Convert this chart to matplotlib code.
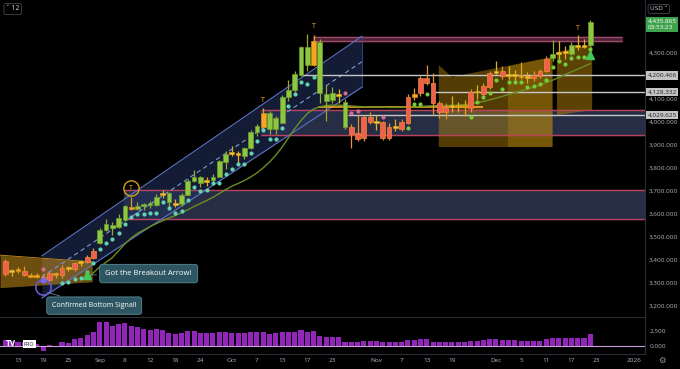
import numpy as np
import pandas as pd
import matplotlib
matplotlib.use("Agg")
import matplotlib.pyplot as plt
import matplotlib.transforms as mtransforms
from matplotlib.patches import Polygon

# trading days shown on the chart (weekends and market holidays dropped)
holidays = ["2025-09-01", "2025-11-27", "2025-12-25", "2026-01-01"]
days = pd.bdate_range("2025-08-11", "2026-01-02")
days = days[~days.isin(pd.to_datetime(holidays))]

opens = [3397, 3347, 3352, 3354, 3334, 3330, 3327, 3313, 3342, 3334,
         3365, 3360, 3388, 3392, 3410, 3475, 3530, 3550, 3545, 3573,
         3631, 3620, 3636, 3640, 3638, 3683, 3690, 3645, 3643, 3682,
         3744, 3758, 3738, 3745, 3761, 3826, 3860, 3865, 3851, 3884,
         3957, 3978, 4036, 3967, 3996, 4108, 4136, 4202, 4322, 4245,
         4347, 4120, 4094, 4118, 4087, 3978, 3950, 3928, 4022, 4000,
         4000, 3928, 3978, 3970, 3993, 4108, 4123, 4188, 4166, 4080,
         4043, 4065, 4072, 4066, 4061, 4127, 4120, 4149, 4211, 4222,
         4198, 4202, 4200, 4196, 4190, 4198, 4220, 4275, 4293, 4300,
         4295, 4332, 4325, 4333]
highs = [3405, 3360, 3368, 3372, 3343, 3345, 3338, 3350, 3350, 3378,
         3376, 3393, 3398, 3423, 3453, 3540, 3578, 3565, 3600, 3640,
         3674, 3650, 3648, 3655, 3685, 3703, 3697, 3665, 3690, 3750,
         3790, 3765, 3760, 3775, 3835, 3871, 3895, 3875, 3890, 3962,
         3990, 4059, 4045, 4025, 4116, 4180, 4218, 4330, 4380, 4376,
         4360, 4160, 4150, 4140, 4100, 3990, 4030, 4030, 4040, 4030,
         4005, 3995, 4010, 4010, 4120, 4145, 4200, 4245, 4210, 4090,
         4080, 4110, 4085, 4095, 4140, 4160, 4170, 4220, 4265, 4240,
         4240, 4225, 4260, 4215, 4220, 4230, 4285, 4355, 4350, 4330,
         4345, 4375, 4360, 4442]
lows = [3330, 3332, 3343, 3330, 3325, 3323, 3311, 3310, 3324, 3322,
        3352, 3352, 3372, 3385, 3406, 3470, 3525, 3510, 3540, 3570,
        3615, 3615, 3615, 3625, 3635, 3670, 3630, 3628, 3635, 3680,
        3738, 3718, 3722, 3738, 3758, 3793, 3850, 3820, 3840, 3880,
        3940, 3970, 3945, 3945, 3995, 4090, 4130, 4200, 4220, 4240,
        4080, 4004, 4080, 4080, 3970, 3886, 3915, 3915, 3990, 3965,
        3920, 3920, 3960, 3960, 3990, 4095, 4110, 4160, 4030, 4015,
        4010, 4040, 4040, 4025, 4040, 4100, 4110, 4140, 4205, 4185,
        4185, 4175, 4185, 4170, 4175, 4190, 4215, 4265, 4270, 4270,
        4290, 4310, 4320, 4330]
closes = [3340, 3352, 3357, 3334, 3328, 3327, 3313, 3342, 3336, 3365,
          3360, 3388, 3392, 3414, 3440, 3530, 3556, 3540, 3581, 3634,
          3620, 3636, 3640, 3648, 3675, 3687, 3653, 3638, 3682, 3744,
          3761, 3733, 3745, 3760, 3831, 3860, 3865, 3857, 3884, 3957,
          3981, 4036, 3970, 4015, 4108, 4136, 4206, 4322, 4245, 4351,
          4123, 4091, 4123, 4112, 3978, 3947, 3924, 4022, 4000, 3995,
          3928, 3978, 3972, 4000, 4108, 4120, 4188, 4166, 4080, 4043,
          4065, 4072, 4066, 4070, 4127, 4131, 4156, 4211, 4222, 4198,
          4202, 4200, 4196, 4190, 4202, 4220, 4271, 4293, 4300, 4305,
          4332, 4325, 4332, 4432]
# candle colouring from the trend indicator: g=green, o=orange, r=red, y=yellow
kinds = ("ryoroorror" "yryrrggggg" "oggggygygg" "ggygggyygg" "gogggggggo"
         "gggygrrrry" "rryrrorrrr" "ryyoryrryr" "yyoyrrrgyy" "gyyg")

# oscillator pane (purple histogram)
osc = [1000, 800, 700, 600, 500, 300, -780, 170, 60, 610,
       445, 1170, 1280, 1830, 2390, 4060, 4060, 3390, 3610, 3780,
       3340, 3110, 2780, 2670, 2780, 2670, 2220, 1950, 2220, 2500,
       2500, 2110, 2110, 2110, 2280, 2280, 2220, 2110, 2220, 2280,
       2390, 2390, 2000, 2110, 2280, 2280, 2390, 2670, 2280, 2500,
       1670, 1560, 1450, 1450, 720, 610, 610, 890, 890, 830,
       610, 610, 610, 610, 1000, 1000, 1170, 1110, 720, 610,
       610, 610, 610, 610, 830, 830, 1000, 1110, 1110, 1000,
       1000, 1000, 890, 890, 890, 890, 1170, 1280, 1280, 1280,
       1280, 1280, 1280, 1950]

# slow moving average (olive line), starts at candle 13
ma_start = 13
ma = [3320, 3345, 3370, 3390, 3410, 3440, 3470, 3495, 3515, 3530,
      3545, 3558, 3570, 3582, 3593, 3605, 3618, 3632, 3645, 3658,
      3672, 3688, 3705, 3720, 3732, 3745, 3760, 3778, 3800, 3825,
      3855, 3890, 3930, 3970, 4005, 4035, 4055, 4065, 4070, 4072,
      4072, 4070, 4068, 4066, 4065, 4064, 4064, 4063, 4062, 4062,
      4062, 4063, 4064, 4066, 4068, 4069, 4070, 4070, 4071, 4072,
      4074, 4077, 4082, 4088, 4095, 4102, 4110, 4118, 4126, 4134,
      4142, 4150, 4160, 4170, 4180, 4192, 4204, 4216, 4228, 4240,
      4252]

# trailing-stop dots
teal_idx = list(range(9, 50))
teal_px = [3300, 3305, 3318, 3322, 3350, 3385, 3449, 3472, 3490, 3516,
           3556, 3585, 3598, 3600, 3605, 3605, 3653, 3625, 3605, 3613,
           3659, 3715, 3700, 3705, 3733, 3735, 3772, 3793, 3815, 3815,
           3863, 3918, 3964, 3924, 3924, 3974, 4068, 4120, 4174, 4164,
           4193]
pink_idx = [6, 54, 55, 56, 60]
pink_px = [3362, 4123, 4036, 4047, 4022]
lime_idx = [64, 65, 66, 67] + list(range(74, 94))
lime_px = [3974, 4075, 4075, 4120,
           4019, 4084, 4106, 4123, 4180, 4142, 4171, 4171, 4171, 4151,
           4153, 4163, 4180, 4236, 4262, 4250, 4277, 4282, 4282, 4315]

# drawings: channel, zones, levels
chan_x = [5.8, 56.7]
chan_upper = [3418, 4371]
chan_lower = [3235, 4150]
left_zone_x = [-0.86, 13.8]
left_zone_top = [3421, 3392]
left_zone_bot = [3280, 3306]
sep_box = (18.9, 3580, 3704)
oct_box = (40.7, 3942, 4051)
top_band = (48.9, 98.0, 4349, 4366)
white_levels = [(4200.466, 47.2), (4128.332, 68.3), (4029.625, 54.5)]
orange_level = (4065, 49.7, 76.0)
t_marks = [(20, 3712), (41, 4094), (49, 4415), (91, 4405)]
tick_dates = ["2025-08-13", "2025-08-19", "2025-08-25", "2025-09-02", "2025-09-08",
              "2025-09-12", "2025-09-18", "2025-09-24", "2025-10-01", "2025-10-07",
              "2025-10-13", "2025-10-17", "2025-10-23", "2025-11-03", "2025-11-07",
              "2025-11-13", "2025-11-19", "2025-12-01", "2025-12-05", "2025-12-11",
              "2025-12-17", "2025-12-23", "2026-01-02"]
tick_text = ["13", "19", "25", "Sep", "8", "12", "18", "24", "Oct", "7", "13", "17",
             "23", "Nov", "7", "13", "19", "Dec", "5", "11", "17", "23", "2026"]

BG = "#000000"
AX = "#b2b5be"
body_c = {"g": "#8dc63f", "o": "#f5a623", "r": "#f0604f", "y": "#f6c744"}
edge_c = {"g": "#6e9b2e", "o": "#d89010", "r": "#f08a30", "y": "#d0a010"}
wick_c = {"g": "#9aa82e", "o": "#e0a020", "r": "#e8902a", "y": "#e0b020"}

plt.rcParams["font.family"] = ["Open Sans", "DejaVu Sans"]

fig = plt.figure(figsize=(6.8, 3.69), dpi=100, facecolor=BG)
ax = fig.add_axes([0, 53 / 369, 645 / 680, 316 / 369], facecolor=BG)
axv = fig.add_axes([0, 15 / 369, 645 / 680, 37 / 369], facecolor=BG, sharex=ax)

n = len(closes)
assert len(kinds) == n
xs = np.arange(n)
lvl_trans = mtransforms.blended_transform_factory(ax.transAxes, ax.transData)

# horizontal zones
x_right = 103
ax.fill_between([sep_box[0], x_right], sep_box[1], sep_box[2], color="#262d45", zorder=1)
ax.hlines([sep_box[1], sep_box[2]], sep_box[0], x_right, color="#b8435a", lw=1, zorder=2)
ax.fill_between([oct_box[0], x_right], oct_box[1], oct_box[2], color="#262d45", zorder=1)
ax.hlines([oct_box[1], oct_box[2]], oct_box[0], x_right, color="#b8435a", lw=1, zorder=2)
ax.fill_between([top_band[0], top_band[1]], top_band[2], top_band[3], color="#4a2035", zorder=1)
ax.hlines([top_band[2], top_band[3]], top_band[0], top_band[1], color="#a04a6a", lw=1, zorder=2)

# rising channel
ax.fill_between(chan_x, chan_lower, chan_upper, color="#22305a", alpha=0.6, lw=0, zorder=1.5)
ax.plot(chan_x, chan_upper, color="#5b74c4", lw=0.8, zorder=2)
ax.plot(chan_x, chan_lower, color="#5b74c4", lw=0.8, zorder=2)
ax.vlines(chan_x[1], chan_lower[1], chan_upper[1], color="#3a4f90", lw=0.6, zorder=2)
mid = [(a + b) / 2 for a, b in zip(chan_upper, chan_lower)]
ax.plot(chan_x, mid, color="#7a9cd8", lw=0.8, ls=(0, (4, 3)), zorder=2)

# orange projection zones
ax.fill_between(left_zone_x, left_zone_bot, left_zone_top, color="#c8901a", alpha=0.55, lw=0, zorder=1.6)
ax.plot(left_zone_x, left_zone_top, color="#c8901a", lw=0.6, zorder=2)
zone_a = [(68.9, 4246), (71.0, 4194), (87.0, 4281), (87.0, 3890), (68.9, 3890)]
zone_b = [(79.9, 4240), (87.0, 4281), (87.0, 3890), (79.9, 3890)]
zone_c = [(87.7, 4302), (93.3, 4337), (93.3, 4050), (87.7, 4029)]
for pts, a in [(zone_a, 0.45), (zone_b, 0.35), (zone_c, 0.5)]:
    ax.add_patch(Polygon(pts, closed=True, fc="#b8860b", ec="none", alpha=a, zorder=1.7))

# level lines
for price, start in white_levels:
    ax.hlines(price, start, x_right, color="#c8c8c8", lw=1, zorder=2.2)
ax.hlines(orange_level[0], orange_level[1], orange_level[2], color="#f5a623", lw=1.2, zorder=2.2)

# moving average
ax.plot(np.arange(ma_start, ma_start + len(ma)), ma, color="#6b8e23", lw=1, zorder=2.5)

# candles
o = np.array(opens, float)
c = np.array(closes, float)
lo = np.minimum(o, c)
hi = np.maximum(o, c)
ht = np.maximum(hi - lo, 8)
ax.vlines(xs, lows, highs, colors=[wick_c[k] for k in kinds], lw=0.9, zorder=3)
ax.bar(xs, ht, bottom=lo, width=0.76, color=[body_c[k] for k in kinds],
       edgecolor=[edge_c[k] for k in kinds], linewidth=0.5, zorder=4)

# trailing dots
ax.scatter(teal_idx, teal_px, s=9, color="#5fd3b3", zorder=5, lw=0)
ax.scatter(pink_idx, pink_px, s=9, color="#d86a9a", zorder=5, lw=0)
ax.scatter(lime_idx, lime_px, s=9, color="#72cc3c", zorder=5, lw=0)

# signals
for i, p in t_marks:
    ax.text(i, p, "T", color="#f5a623", fontsize=5, ha="center", va="center", zorder=6)
ax.plot(20, 3712, "o", ms=11, mfc="none", mec="#d4a017", mew=1, zorder=6)
ax.plot(6, 3281, "o", ms=11, mfc="none", mec="#6a5acd", mew=1.2, zorder=6)
ax.plot(6, 3312, "s", ms=3, color="#7b68ee", zorder=6)
ax.plot(13, 3335, "^", ms=6, color="#43c85a", zorder=6)
ax.plot(93, 4288, "^", ms=6, color="#43c85a", zorder=6)

box = dict(boxstyle="round,pad=0.75,rounding_size=0.35", fc="#2e5662", ec="#5a8894", lw=0.6)
ax.annotate("Got the Breakout Arrow!", xy=(13.4, 3335), xytext=(15.9, 3341),
            color="white", fontsize=5.5, va="center", ha="left", bbox=box, zorder=7,
            arrowprops=dict(arrowstyle="-", color="#5a8894", lw=0.6))
ax.annotate("Confirmed Bottom Signal!", xy=(6.3, 3262), xytext=(7.4, 3202),
            color="white", fontsize=5, va="center", ha="left", bbox=box, zorder=7,
            arrowprops=dict(arrowstyle="-", color="#5a8894", lw=0.6))

# price scale
ax.set_xlim(-0.86, 101.7)
ax.set_ylim(3157, 4528)
yt = [p for p in range(3200, 4400, 100) if p != 4200]
ax.yaxis.tick_right()
ax.set_yticks(yt)
ax.set_yticklabels(["{:,.3f}".format(p) for p in yt])
ax.tick_params(axis="y", length=0, pad=3, labelsize=4.6, labelcolor=AX)
ax.tick_params(axis="x", length=0, labelbottom=False)
for s in ["top", "left", "bottom"]:
    ax.spines[s].set_visible(False)
ax.spines["right"].set_color("#2a2e39")

lab_box = dict(boxstyle="square,pad=0.25", fc="#c4c4c4", ec="none")
for price, _ in white_levels:
    ax.text(1.004, price, "{:,.3f}".format(price), transform=lvl_trans, fontsize=4.6,
            color="#222222", va="center", ha="left", bbox=lab_box, clip_on=False, zorder=8)
ax.text(1.004, closes[-1] - 10, "4,435.865\n03:53:23", transform=lvl_trans, fontsize=4.6,
        color="white", va="center", ha="left", linespacing=1.2,
        bbox=dict(boxstyle="square,pad=0.3", fc="#3fa34d", ec="none"), clip_on=False, zorder=8)

# oscillator pane
axv.bar(xs, osc, width=0.8, color="#9226b8", zorder=2)
axv.axhline(0, color="#c9a0dc", lw=0.8, zorder=3)
axv.set_ylim(-1333, 4833)
axv.yaxis.tick_right()
axv.set_yticks([0, 2500])
axv.set_yticklabels(["0.000", "2,500"])
axv.tick_params(axis="y", length=0, pad=3, labelsize=4.6, labelcolor=AX)
tick_pos = [days.get_loc(pd.Timestamp(d)) for d in tick_dates]
axv.set_xticks(tick_pos)
axv.set_xticklabels(tick_text)
axv.tick_params(axis="x", length=0, pad=3, labelsize=4.6, labelcolor=AX)
axv.spines["left"].set_visible(False)
for s in ["top", "bottom", "right"]:
    axv.spines[s].set_color("#2a2e39")

# chrome
fig.text(6 / 680, 1 - 9 / 369, "\u02c5 12", color="#d1d4dc", fontsize=5, va="center", ha="left",
         bbox=dict(boxstyle="round,pad=0.3", fc=BG, ec="#434651", lw=0.6))
fig.text(650 / 680, 1 - 9 / 369, "USD \u02c5", color="#d1d4dc", fontsize=4.6, va="center", ha="left",
         bbox=dict(boxstyle="round,pad=0.3", fc=BG, ec="#434651", lw=0.6))
fig.text(6 / 680, 1 - 344 / 369, "TV", color="white", fontsize=6, fontweight="bold", va="center", ha="left")
fig.text(24 / 680, 1 - 344 / 369, "PRO", color="#111111", fontsize=3.8, va="center", ha="left",
         bbox=dict(boxstyle="square,pad=0.2", fc="white", ec="none"))
fig.text(662 / 680, 1 - 361 / 369, "\u2699", color="#9598a1", fontsize=6, va="center", ha="center")

fig.savefig("out.png", dpi=100, facecolor=BG)
